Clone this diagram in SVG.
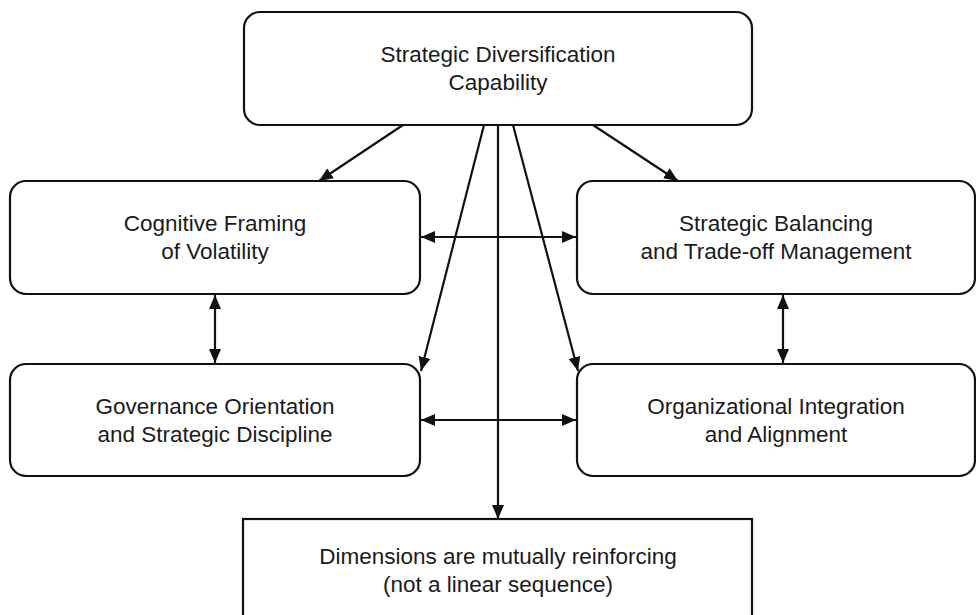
<svg xmlns="http://www.w3.org/2000/svg" width="976" height="615" viewBox="0 0 976 615">
  <defs>
    <style>
      .node rect { fill: #ffffff; stroke: #111111; stroke-width: 2.2; }
      .node text { font-family: "Liberation Sans", Arial, Helvetica, sans-serif; font-size: 22.5px; fill: #1a1a1a; text-anchor: middle; }
      .edges line { stroke: #111111; stroke-width: 2.2; fill: none; }
      .one { marker-end: url(#head); }
      .two { marker-start: url(#head); marker-end: url(#head); }
    </style>
    <marker id="head" markerUnits="userSpaceOnUse" markerWidth="15" markerHeight="13" refX="14" refY="6" orient="auto-start-reverse">
      <path d="M0,0 L14,6 L0,12 z" fill="#111111"/>
    </marker>
  </defs>
  <rect width="976" height="615" fill="#ffffff"/>

  <g id="edges" class="edges">
    <line class="one" x1="403" y1="125" x2="319" y2="181"/>
    <line class="one" x1="593" y1="125" x2="678" y2="181"/>
    <line class="one" x1="484" y1="125" x2="421" y2="371"/>
    <line class="one" x1="513" y1="125" x2="578" y2="371"/>
    <line class="one" x1="498" y1="125" x2="498" y2="519"/>
    <line class="two" x1="421" y1="237" x2="576" y2="237"/>
    <line class="two" x1="421" y1="420" x2="576" y2="420"/>
    <line class="two" x1="215" y1="295" x2="215" y2="363"/>
    <line class="two" x1="783" y1="295" x2="783" y2="363"/>
  </g>

  <g id="capability" class="node">
    <rect x="244" y="12" width="508" height="113" rx="16"/>
    <text x="498" y="62">Strategic Diversification</text>
    <text x="498" y="90">Capability</text>
  </g>

  <g id="cognitive-framing" class="node">
    <rect x="10" y="181" width="410" height="113" rx="16"/>
    <text x="215" y="231">Cognitive Framing</text>
    <text x="215" y="259">of Volatility</text>
  </g>

  <g id="strategic-balancing" class="node">
    <rect x="577" y="181" width="398" height="113" rx="16"/>
    <text x="776" y="231">Strategic Balancing</text>
    <text x="776" y="259">and Trade-off Management</text>
  </g>

  <g id="governance" class="node">
    <rect x="10" y="364" width="410" height="112" rx="16"/>
    <text x="215" y="414">Governance Orientation</text>
    <text x="215" y="442">and Strategic Discipline</text>
  </g>

  <g id="integration" class="node">
    <rect x="577" y="364" width="398" height="112" rx="16"/>
    <text x="776" y="414">Organizational Integration</text>
    <text x="776" y="442">and Alignment</text>
  </g>

  <g id="reinforcing-note" class="node">
    <rect x="243" y="519" width="509" height="130"/>
    <text x="498" y="564">Dimensions are mutually reinforcing</text>
    <text x="498" y="592">(not a linear sequence)</text>
  </g>
</svg>
